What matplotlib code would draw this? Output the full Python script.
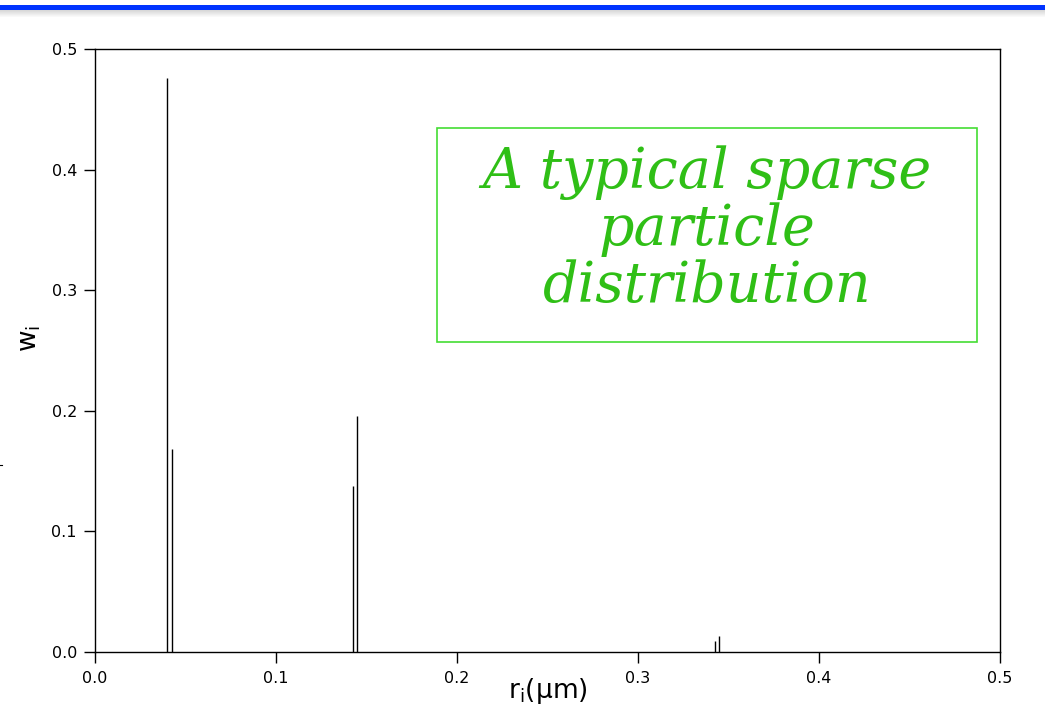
import matplotlib
matplotlib.use("Agg")
import matplotlib.pyplot as plt
from matplotlib.patches import Rectangle
from matplotlib.lines import Line2D

radii = [0.0400, 0.0425, 0.1425, 0.1448, 0.3425, 0.3448]
weights = [0.476, 0.168, 0.138, 0.196, 0.0095, 0.013]
xticks = [0.0, 0.1, 0.2, 0.3, 0.4, 0.5]
yticks = [0.0, 0.1, 0.2, 0.3, 0.4, 0.5]

fig = plt.figure(figsize=(10.45, 7.11), dpi=100)
ax = fig.add_axes([95/1045, 59/711, 905/1045, 603/711])

ax.vlines(radii, 0, weights, colors="black", linewidth=1.0)
ax.set_xlim(0, 0.5)
ax.set_ylim(0, 0.5)
ax.set_xticks(xticks)
ax.set_yticks(yticks)
ax.set_xticklabels([f"{v:.1f}" for v in xticks])
ax.set_yticklabels([f"{v:.1f}" for v in yticks])
ax.tick_params(direction="out", length=8, width=1, labelsize=11.5,
               top=False, right=False)
ax.xaxis.set_tick_params(pad=6)
ax.yaxis.set_tick_params(pad=5)
for s in ax.spines.values():
    s.set_linewidth(1.0)

ax.set_xlabel(r"r$_\mathregular{i}$($\mathregular{\mu}$m)", fontsize=19, labelpad=0)
ax.xaxis.set_label_coords(0.5, -0.04)
ax.set_ylabel(r"w$_\mathregular{i}$", fontsize=19, labelpad=0)
ax.yaxis.set_label_coords(-0.058, 0.52)

# annotation box (pixel-based placement in figure coordinates)
bx0, by0, bx1, by1 = 437, 128, 977, 342
fig.patches.append(Rectangle((bx0/1045, 1 - by1/711), (bx1-bx0)/1045, (by1-by0)/711,
                             transform=fig.transFigure, facecolor="white",
                             edgecolor="#44dd33", linewidth=1.2, zorder=5))
fig.text((bx0+bx1)/2/1045, 1 - (by0+by1)/2/711 + 0.008,
         "A typical sparse\nparticle\ndistribution",
         fontsize=40, color="#2fbf16", family="DejaVu Serif", style="italic",
         ha="center", va="center", linespacing=1.05, zorder=6)

# top blue banner with shadow
for i in range(8):
    fig.patches.append(Rectangle((0, 1 - (10 + i) / 711), 1, 1/711,
                                 transform=fig.transFigure,
                                 facecolor=(0.5, 0.5, 0.5, 0.35 * (1 - i / 8)),
                                 edgecolor="none"))
fig.patches.append(Rectangle((0, 1 - 10/711), 1, 5/711, transform=fig.transFigure,
                             facecolor="#0033ff", edgecolor="none"))
fig.lines.append(Line2D([0, 2/1045], [1 - 465/711] * 2, transform=fig.transFigure,
                        color="black", linewidth=0.8))

fig.savefig("out.png", dpi=100)
